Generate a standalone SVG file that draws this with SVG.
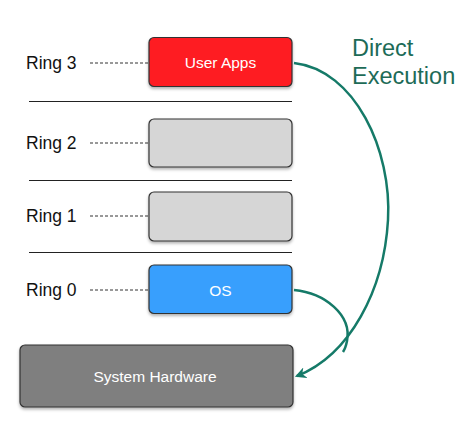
<svg xmlns="http://www.w3.org/2000/svg" width="474" height="431" viewBox="0 0 474 431">
<style>
.lbl{font-family:"Liberation Sans",Arial,sans-serif;font-size:17.5px;fill:#111}
.box{stroke:#333;stroke-width:1.2}
.btxt{font-family:"Liberation Sans",Arial,sans-serif;font-size:15.5px;fill:#fff;text-anchor:middle}
.dash{stroke:#333;stroke-width:1;stroke-dasharray:3,2}
.sep{stroke:#222;stroke-width:1}
.conn{fill:none;stroke:#157a68;stroke-width:2.5}
</style>
<defs>
<filter id="sh" x="-10%" y="-10%" width="120%" height="130%"><feDropShadow dx="0" dy="2" stdDeviation="1.5" flood-opacity="0.3"/></filter>
<marker id="ah" viewBox="0 0 10 10" refX="8" refY="5" markerWidth="4.5" markerHeight="4.5" orient="auto"><path d="M0,0 L10,5 L0,10 L3,5 z" fill="#157a68"/></marker>
</defs>
<rect width="474" height="431" fill="#fff"/>
<g id="separators">
<line class="sep" x1="29" y1="101.5" x2="292" y2="101.5"/>
<line class="sep" x1="29" y1="180.5" x2="292" y2="180.5"/>
<line class="sep" x1="29" y1="252.5" x2="292" y2="252.5"/>
</g>
<g id="ring3">
<text class="lbl" x="26" y="69">Ring 3</text>
<line class="dash" x1="90" y1="63" x2="149" y2="63"/>
<rect id="userapps" class="box" x="149" y="37.5" width="143" height="49" rx="5" fill="#fe1b22" filter="url(#sh)"/>
<text class="btxt" x="220.5" y="68">User Apps</text>
</g>
<g id="ring2">
<text class="lbl" x="26" y="149">Ring 2</text>
<line class="dash" x1="90" y1="143" x2="149" y2="143"/>
<rect class="box" x="149" y="119" width="143" height="48" rx="5" fill="#d6d6d6" filter="url(#sh)"/>
</g>
<g id="ring1">
<text class="lbl" x="26" y="222">Ring 1</text>
<line class="dash" x1="90" y1="216" x2="149" y2="216"/>
<rect class="box" x="149" y="192" width="143" height="49" rx="5" fill="#d6d6d6" filter="url(#sh)"/>
</g>
<g id="ring0">
<text class="lbl" x="26" y="296">Ring 0</text>
<line class="dash" x1="90" y1="290" x2="149" y2="290"/>
<rect id="os" class="box" x="149" y="265" width="143" height="48.5" rx="5" fill="#379ffd" filter="url(#sh)"/>
<text class="btxt" x="220.5" y="295.5">OS</text>
</g>
<g id="hardware">
<rect class="box" x="20" y="345" width="273" height="62" rx="5" fill="#7f7f7f" filter="url(#sh)"/>
<text class="btxt" x="155" y="382">System Hardware</text>
</g>
<g id="label">
<text x="352" y="56" font-family="'Liberation Sans',Arial,sans-serif" font-size="23.5" fill="#1d6b57">Direct</text>
<text x="352" y="84" font-family="'Liberation Sans',Arial,sans-serif" font-size="23.5" fill="#1d6b57">Execution</text>
</g>
<g id="connectors">
<path class="conn" d="M294,63 C355,70 392,150 388,220 C384,290 350,355 297,376" marker-end="url(#ah)"/>
<path class="conn" d="M294,290 C325,293 352,315 347,341 C346,346 345,349 343,352"/>
</g>
</svg>
